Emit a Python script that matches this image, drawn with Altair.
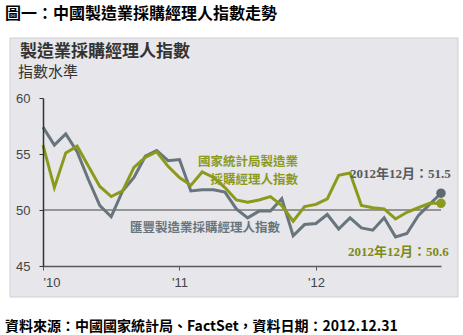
import altair as alt
import pandas as pd

# ---- data ----
months = [f"{y}-{m:02d}" for y in (2010, 2011, 2012) for m in range(1, 13)]
nbs_pmi = [55.8, 52.0, 55.1, 55.7, 53.9, 52.1, 51.2, 51.7, 53.8, 54.7, 55.2, 53.9,
           52.9, 52.2, 53.4, 52.9, 52.0, 50.9, 50.7, 50.9, 51.2, 50.4, 49.0, 50.3,
           50.5, 51.0, 53.1, 53.3, 50.4, 50.2, 50.1, 49.2, 49.8, 50.2, 50.6, 50.6]
hsbc_pmi = [57.4, 55.8, 56.8, 55.2, 52.7, 50.4, 49.4, 51.7, 52.9, 54.8, 55.3, 54.4,
            54.5, 51.7, 51.8, 51.8, 51.6, 50.1, 49.3, 49.9, 49.9, 51.0, 47.7, 48.7,
            48.8, 49.6, 48.3, 49.3, 48.4, 48.2, 49.3, 47.6, 47.9, 49.5, 50.5, 51.5]
year_ticks = [0, 12, 24]
year_labels = ["'10", "'11", "'12"]
y_ticks = [45, 50, 55, 60]

GREEN = "#8c9a1c"
GRAY = "#68757c"
CJK = "Noto Sans CJK TC"

df = pd.DataFrame({"idx": list(range(len(months))), "month": months,
                   "nbs": nbs_pmi, "hsbc": hsbc_pmi})
last = df.tail(1)
one = pd.DataFrame({"a": [0]})

label_expr = " : ".join(
    [f"datum.value == {t} ? \"{l}\"" for t, l in zip(year_ticks, year_labels)]) + " : ''"

xs = alt.Scale(domain=[0, 35], nice=False)
ys = alt.Scale(domain=[45, 60], nice=False)

x_axis = alt.Axis(values=year_ticks, labelExpr=label_expr, title=None, grid=False,
                  domainColor="#5a5a5a", domainWidth=1.5, tickColor="#5a5a5a",
                  tickSize=4, labelPadding=6, labelFontSize=13, labelColor="#444",
                  labelFont="Liberation Sans", labelAngle=0, zindex=1)
y_axis = alt.Axis(values=y_ticks, title=None, grid=False, domainColor="#333",
                  domainWidth=1.5, tickColor="#333", tickSize=4, labelPadding=9,
                  labelFontSize=13, labelColor="#444", labelFont="Liberation Sans",
                  zindex=1)

panel = alt.Chart(one).mark_rect(fill="#e6e6eb", stroke="#cfcfd6", strokeWidth=1).encode(
    x=alt.value(-33), x2=alt.value(415), y=alt.value(-60), y2=alt.value(199))

rule50 = alt.Chart(one).mark_rule(color="#7a7a7a", strokeWidth=1.5).encode(
    y=alt.datum(50, scale=ys), x=alt.value(0), x2=alt.value(398))

gray_line = alt.Chart(df).mark_line(color=GRAY, strokeWidth=3).encode(
    x=alt.X("idx:Q", scale=xs, axis=x_axis),
    y=alt.Y("hsbc:Q", scale=ys, axis=y_axis))
green_line = alt.Chart(df).mark_line(color=GREEN, strokeWidth=3).encode(
    x=alt.X("idx:Q", scale=xs), y=alt.Y("nbs:Q", scale=ys))
gray_dot = alt.Chart(last).mark_circle(color="#5d6a70", size=90, opacity=1).encode(
    x=alt.X("idx:Q", scale=xs), y=alt.Y("hsbc:Q", scale=ys))
green_dot = alt.Chart(last).mark_circle(color=GREEN, size=90, opacity=1).encode(
    x=alt.X("idx:Q", scale=xs), y=alt.Y("nbs:Q", scale=ys))


def txt(s, x, y, size, color, weight="bold", align="left", font=CJK):
    return alt.Chart(one).mark_text(text=s, align=align, baseline="middle",
                                    fontSize=size, fontWeight=weight, color=color,
                                    font=font).encode(x=alt.value(x), y=alt.value(y))


texts = [
    txt("圖一：中國製造業採購經理人指數走勢", -38, -84, 16, "#000"),
    txt("製造業採購經理人指數", -23, -46, 17, "#333"),
    txt("指數水準", -25, -26, 15, "#333", weight="normal"),
    txt("國家統計局製造業", 255, 64, 12.5, GREEN, align="right"),
    txt("採購經理人指數", 255, 82, 12.5, GREEN, align="right"),
    txt("匯豐製造業採購經理人指數", 87, 130, 12.5, GRAY),
    txt("2012年12月：51.5", 307, 76, 13, "#555b5f", font="Liberation Serif, " + CJK),
    txt("2012年12月：50.6", 305, 154, 13, "#7d8a14", font="Liberation Serif, " + CJK),
    txt("資料來源：中國國家統計局、FactSet，資料日期：2012.12.31", -38, 229, 14, "#000"),
]

chart = alt.layer(panel, rule50, gray_line, green_line, gray_dot, green_dot, *texts).properties(
    width=398, height=168,
    padding={"left": 43, "top": 98, "right": 22, "bottom": 69},
    autosize="none", background="white"
).configure_view(stroke=None)

chart.save("out.html", embed_options={"renderer": "svg", "actions": False})
